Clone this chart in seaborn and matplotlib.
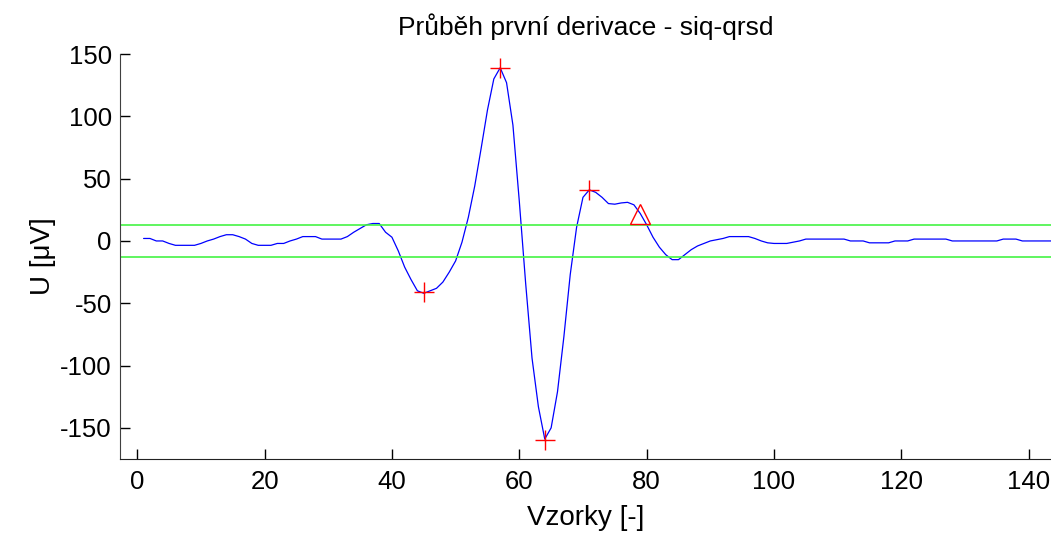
import numpy as np
import pandas as pd
import matplotlib
matplotlib.use("Agg")
import matplotlib.pyplot as plt
import seaborn as sns

# Data (first derivative of the signal, samples 1..144)
samples = np.arange(1, 145)
derivative = [
    2, 2, 0, 0, -2, -3.5, -3.5, -3.5, -3.5, -2,
    0, 1.5, 3.5, 5, 5, 3.5, 1.5, -2, -3.5, -3.5,
    -3.5, -2, -2, 0, 1.5, 3.5, 3.5, 3.5, 1.5, 1.5,
    1.5, 1.5, 3.5, 7, 10, 13, 14, 14, 7, 3,
    -8, -21, -31, -40, -42, -40, -38, -33, -25, -16,
    -1, 19, 44, 74, 105, 130, 139, 127, 93, 32,
    -34, -94, -133, -159, -150, -121, -77, -27, 11, 35,
    41, 39, 35, 30, 29.5, 30.5, 31, 29, 22, 13,
    3, -5, -11, -15, -15, -11, -7, -4, -2, 0,
    1, 2, 3.5, 3.5, 3.5, 3.5, 2, 0, -1.5, -2,
    -2, -2, -1, 0, 1.5, 1.5, 1.5, 1.5, 1.5, 1.5,
    1.5, 0, 0, 0, -1.5, -1.5, -1.5, -1.5, 0, 0,
    0, 1.5, 1.5, 1.5, 1.5, 1.5, 1.5, 0, 0, 0,
    0, 0, 0, 0, 0, 1.5, 1.5, 1.5, 0, 0,
    0, 0, 0, 0,
]
threshold = 12.5

# detected extremes (+) and the end point (triangle)
peak_x = [45, 57, 64, 71]
peak_y = [-41, 139, -160, 41]
end_x = [79]
end_y = [22]

df = pd.DataFrame({"sample": samples, "value": derivative})

sns.set_style("white")
plt.rcParams["font.family"] = ["Liberation Sans", "DejaVu Sans"]
plt.rcParams["axes.unicode_minus"] = False
plt.rcParams["text.color"] = "black"
plt.rcParams["axes.labelcolor"] = "black"

fig = plt.figure(figsize=(10.51, 5.35), dpi=100)
# axes box in figure coords (MATLAB style, no top/right spine)
ax = fig.add_axes([0.1142, 0.142, 0.8858, 0.757])

sns.lineplot(data=df, x="sample", y="value", color="#0000ff", linewidth=0.9, ax=ax)
ax.axhline(threshold, color="#44f444", linewidth=1.2)
ax.axhline(-threshold, color="#44f444", linewidth=1.2)

ax.plot(peak_x, peak_y, linestyle="none", marker="+", markersize=14,
        markeredgewidth=1.0, color="red")
ax.plot(end_x, end_y, linestyle="none", marker="^", markersize=15,
        markeredgewidth=1.0, markerfacecolor="none", color="red")

ax.set_xlim(-2.7, 143.5)
ax.set_ylim(-175, 150)
ax.set_xticks(np.arange(0, 141, 20))
ax.set_yticks(np.arange(-150, 151, 50))
ax.tick_params(bottom=True, left=True, direction="in", length=7, width=1,
               labelsize=18.5, colors="black")
ax.tick_params(axis="x", pad=8)
ax.tick_params(axis="y", pad=6)

for side in ["top", "right"]:
    ax.spines[side].set_visible(False)
ax.spines["left"].set_color("#404040")
ax.spines["bottom"].set_color("#222222")

ax.set_title("Průběh první derivace - siq-qrsd", fontsize=19, pad=14, color="black")
ax.set_xlabel("Vzorky [-]", fontsize=20, labelpad=8)
ax.set_ylabel("U [μV]", fontsize=20, labelpad=3)

fig.savefig("out.png", dpi=100)
